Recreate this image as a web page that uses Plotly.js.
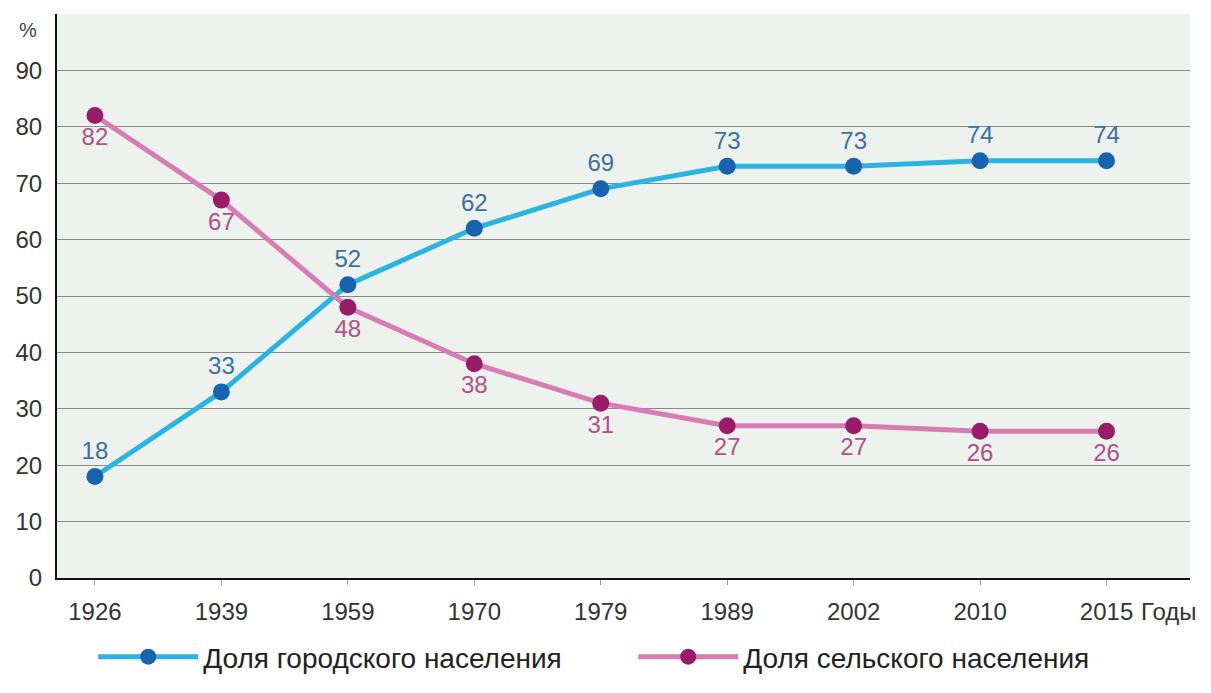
<!DOCTYPE html>
<html><head><meta charset="utf-8">
<script src="https://cdn.plot.ly/plotly-3.0.1.min.js"></script>
<style>html,body{margin:0;padding:0;background:#fff}#chart{width:1211px;height:693px}</style>
</head><body><div id="chart"></div>
<script>
const years = ['1926','1939','1959','1970','1979','1989','2002','2010','2015'];
const urban = [18, 33, 52, 62, 69, 73, 73, 74, 74];
const rural = [82, 67, 48, 38, 31, 27, 27, 26, 26];
const urbanName = 'Доля городского населения';
const ruralName = 'Доля сельского населения';

const font = 'Liberation Sans, Arial, sans-serif';
const traces = [
  {x: years, y: urban, name: urbanName, type: 'scatter', mode: 'lines+markers+text',
   line: {color: '#2bb3e2', width: 5}, marker: {color: '#1763ae', size: 17},
   text: urban.map(String), textposition: 'top center',
   textfont: {family: font, size: 24, color: '#3d6f9c'}},
  {x: years, y: rural, name: ruralName, type: 'scatter', mode: 'lines+markers+text',
   line: {color: '#d77db3', width: 5}, marker: {color: '#991c68', size: 17},
   text: rural.map(String), textposition: 'bottom center',
   textfont: {family: font, size: 24, color: '#b04f88'}}
];
const layout = {
  width: 1211, height: 693,
  margin: {l: 57, r: 21, t: 14, b: 115, autoexpand: false},
  paper_bgcolor: '#ffffff', plot_bgcolor: '#eef2ee',
  font: {family: font, size: 24, color: '#333'},
  xaxis: {type: 'category', range: [-0.3, 8.66], showgrid: false, zeroline: false,
    showline: true, linecolor: '#111', linewidth: 2, ticks: 'outside', ticklen: 5,
    tickcolor: '#999', tickwidth: 1, ticklabelstandoff: 6, tickfont: {size: 24, color: '#333'}},
  yaxis: {range: [0, 100], tickvals: [0,10,20,30,40,50,60,70,80,90], showgrid: true,
    gridcolor: '#8a8a8a', gridwidth: 1, zeroline: false, showline: true, linecolor: '#111',
    linewidth: 2, ticks: '', ticklabelstandoff: 8, tickfont: {size: 24, color: '#333'}},
  showlegend: true,
  legend: {orientation: 'h', xref: 'container', yref: 'container', x: 0.077, xanchor: 'left',
    y: 0.052, yanchor: 'middle', font: {size: 28, color: '#222'}, itemwidth: 100,
    entrywidth: 425, entrywidthmode: 'pixels'},
  annotations: [
    {text: '%', xref: 'paper', yref: 'paper', x: -0.0256, y: 0.995, xanchor: 'center', yanchor: 'top',
     showarrow: false, font: {size: 20, color: '#444'}},
    {text: 'Годы', xref: 'paper', yref: 'paper', x: 0.981, y: -0.06, xanchor: 'center', yanchor: 'middle',
     showarrow: false, font: {size: 24, color: '#333'}}
  ]
};
Plotly.newPlot('chart', traces, layout, {displayModeBar: false, staticPlot: true});
</script></body></html>
